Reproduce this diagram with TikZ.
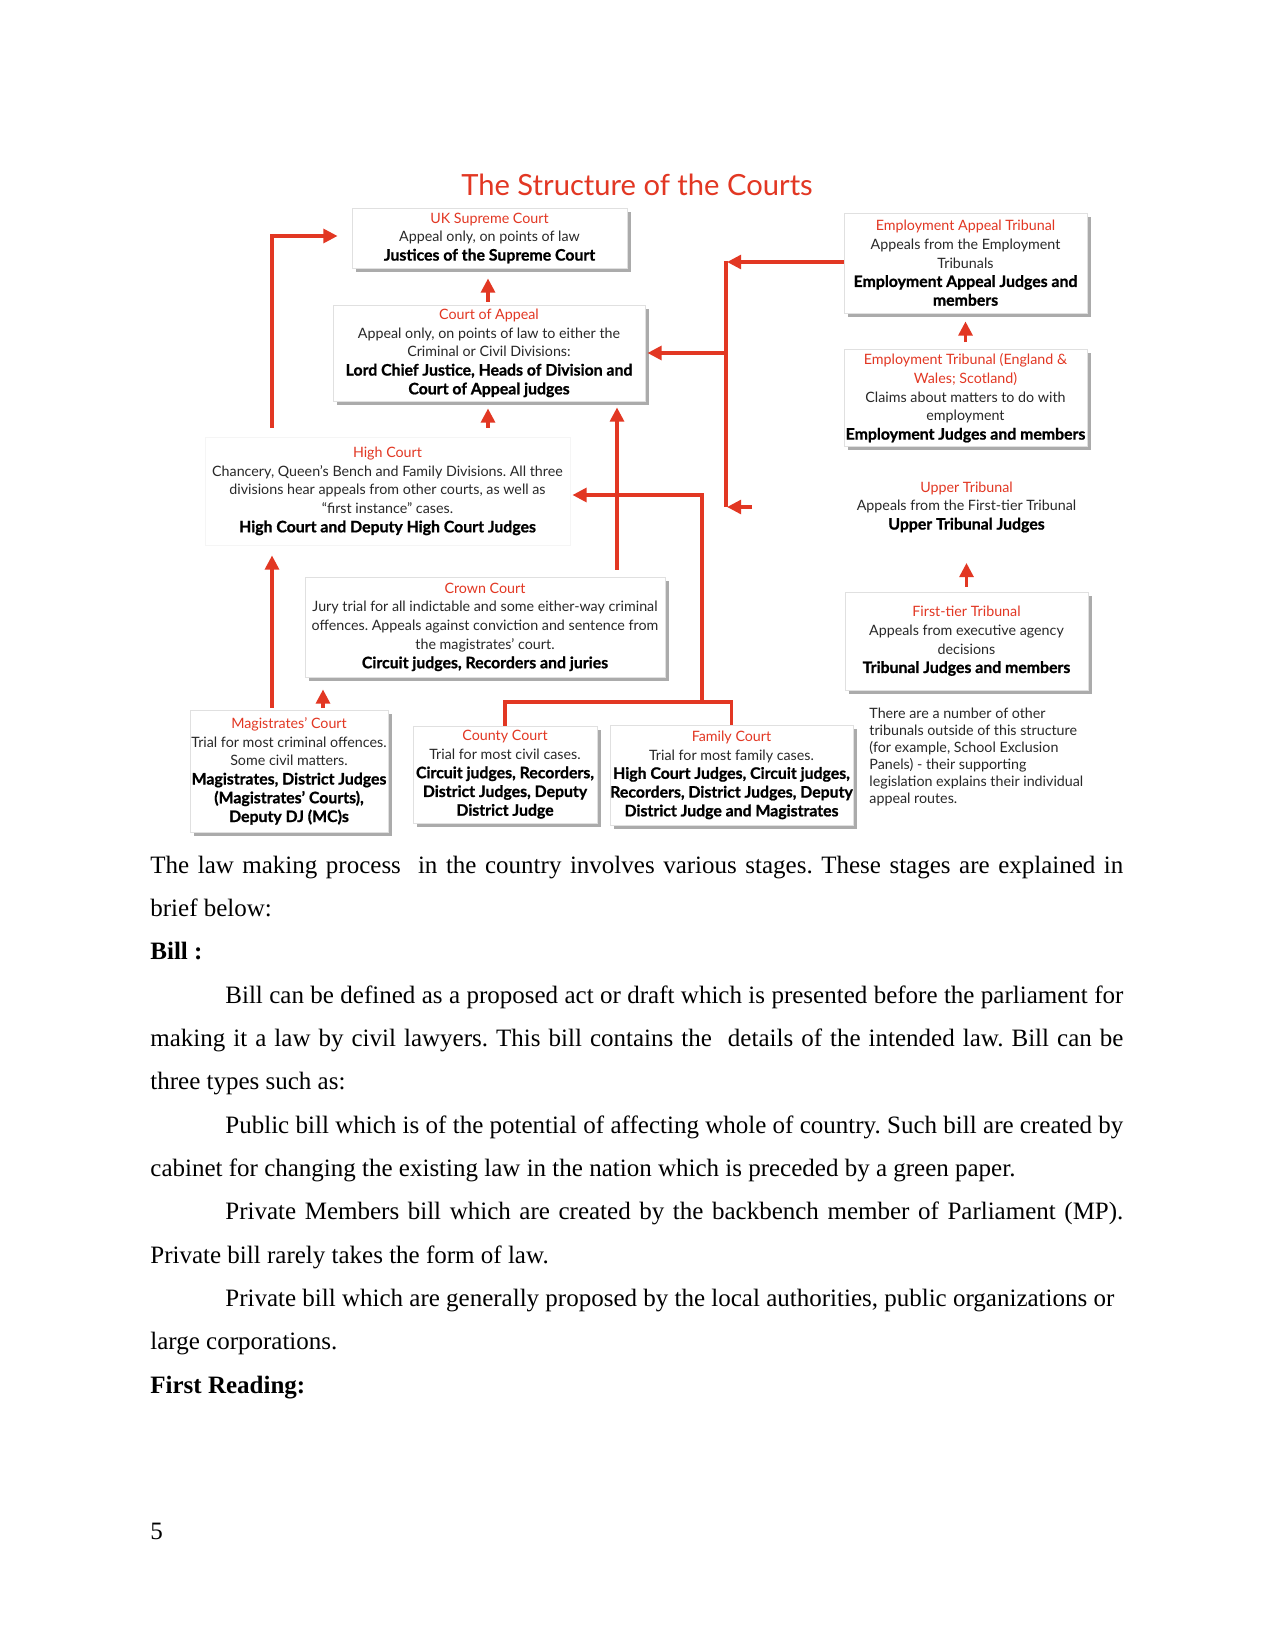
\documentclass[tikz,border=0pt]{standalone}
\usepackage{fontspec}
\setmainfont{Liberation Serif}
\newfontfamily\diagfont[BoldFeatures={FakeBold=1}]{Lato}
\usetikzlibrary{arrows.meta,calc,shadows}
\definecolor{cred}{RGB}{226,55,35}
\definecolor{ctext}{RGB}{40,40,40}
\newcommand{\redt}[1]{\textcolor{cred}{#1}}
\newcommand{\bt}[1]{{\fontsize{7.6}{9}\selectfont\bfseries\color{black}#1}}
\newcommand{\dfont}{\diagfont\fontsize{6.85}{9}\selectfont\color{ctext}\frenchspacing}
\begin{document}
\begin{tikzpicture}[x=0.48pt,y=-0.48pt,
  sz/.style 2 args={minimum width=#1*0.48pt, minimum height=#2*0.48pt},
  box/.style={draw=black!12, fill=white, line width=0.4pt, inner sep=0pt, align=center, font=\dfont,
     drop shadow={shadow xshift=1.8pt, shadow yshift=-1.8pt, fill=black!60, opacity=0.55}},
  plainbox/.style={draw=black!4, fill=white, inner sep=0pt, align=center, font=\dfont},
  nobox/.style={inner sep=0pt, align=center, font=\dfont},
  conn/.style={draw=cred, line width=1.7pt},
  arr/.style={conn, -{Triangle[length=6.8pt,width=6.6pt]}}]
\fill[white] (0,0) rectangle (1275,1651);
\useasboundingbox (0,0) rectangle (1275,1651);

% title
\node[anchor=base, inner sep=0pt, font=\diagfont\fontsize{14}{16}\selectfont, text=cred] (title) at (637,196) {The Structure of the Courts};

% boxes
\node[box, sz={275}{60}] (sup) at (489.5,238) {\redt{UK Supreme Court}\\Appeal only, on points of law\\\bt{Justices of the Supreme Court}};
\node[box, sz={312}{96}] (coa) at (489,353) {\redt{Court of Appeal}\\Appeal only, on points of law to either the\\Criminal or Civil Divisions:\\\bt{Lord Chief Justice, Heads of Division and}\\\bt{Court of Appeal judges}};
\node[plainbox, sz={365}{108}] (hc) at (387.5,491) {\redt{High Court}\\Chancery, Queen’s Bench and Family Divisions. All three\\divisions hear appeals from other courts, as well as\\“first instance” cases.\\\bt{High Court and Deputy High Court Judges}};
\node[box, sz={360}{100}] (cc) at (485,627) {\redt{Crown Court}\\Jury trial for all indictable and some either-way criminal\\offences. Appeals against conviction and sentence from\\the magistrates’ court.\\\bt{Circuit judges, Recorders and juries}};
\node[box, sz={198}{122}] (mc) at (289,771) {\redt{Magistrates’ Court}\\Trial for most criminal offences.\\Some civil matters.\\\bt{Magistrates, District Judges}\\\bt{(Magistrates’ Courts),}\\\bt{Deputy DJ (MC)s}};
\node[box, sz={184}{97}] (cty) at (505,774.5) {\redt{County Court}\\Trial for most civil cases.\\\bt{Circuit judges, Recorders,}\\\bt{District Judges, Deputy}\\\bt{District Judge}};
\node[box, sz={243}{100}] (fc) at (731.5,775) {\redt{Family Court}\\Trial for most family cases.\\\bt{High Court Judges, Circuit judges,}\\\bt{Recorders, District Judges, Deputy}\\\bt{District Judge and Magistrates}};
\node[box, sz={243}{100}] (eat) at (965.5,263) {\redt{Employment Appeal Tribunal}\\Appeals from the Employment\\Tribunals\\\bt{Employment Appeal Judges and}\\\bt{members}};
\node[box, sz={243}{97}] (et) at (965.5,398) {\redt{Employment Tribunal (England \&}\\\redt{Wales; Scotland)}\\Claims about matters to do with\\employment\\\bt{Employment Judges and members}};
\node[nobox, sz={243}{95}] (ut) at (966.5,507) {\redt{Upper Tribunal}\\Appeals from the First-tier Tribunal\\\bt{Upper Tribunal Judges}};
\node[box, sz={243}{98}] (ftt) at (966.5,641) {\redt{First-tier Tribunal}\\Appeals from executive agency\\decisions\\\bt{Tribunal Judges and members}};
\node[inner sep=0pt, align=left, anchor=west, font=\diagfont\fontsize{6.85}{8.1}\selectfont\color{ctext}\frenchspacing] (note) at (869,757) {There are a number of other\\tribunals outside of this structure\\(for example, School Exclusion\\Panels) - their supporting\\legislation explains their individual\\appeal routes.};

% connector guide coordinates
\coordinate (L) at (272,0);
\coordinate (M) at (323,0);
\coordinate (C) at (617,0);
\coordinate (V) at (726,0);
\coordinate (J) at (702,702);

% connectors
\draw[arr] ($(coa.north)+(-1,-3)$) -- ($(sup.south)+(-1.5,10)$);
\draw[arr] ($(hc.north -| coa.south)+(-1,-9)$) -- ($(coa.south)+(-1,7)$);
\draw[arr] ($(hc.north -| L)+(0,-9)$) |- ($(sup.west)+(-14,-2)$);
\draw[arr] ($(mc.north -| L)+(0,-2)$) -- ($(hc.south -| L)+(0,10)$);
\draw[arr] ($(mc.north -| M)+(0,-2)$) -- ($(cc.south -| M)+(0,12)$);
\draw[arr] ($(cc.north -| C)+(0,-7)$) -- ($(coa.south -| C)+(0,6)$);
\draw[conn] (cty.north) |- (J) -| (fc.north);
\draw[arr] (J) |- ($(hc.east)+(2,4)$);
\draw[arr] ($(eat.west)+(0,-1)$) -- ($(eat.west -| V)+(1,-1)$);
\draw[conn] ($(eat.west -| V)+(0,-2)$) -- (ut.west -| V);
\draw[arr] (coa.east -| V) -- ($(coa.east)+(2,0)$);
\draw[arr] ($(ut.west -| V)+(26,0)$) -- ($(ut.west -| V)+(1,0)$);
\draw[arr] ($(et.north)+(0,-7)$) -- ($(eat.south)+(0,8)$);
\draw[arr] ($(ftt.north)+(0,-5)$) -- ($(ut.south)+(0,8)$);

% body text
\node[anchor=base west, inner sep=0pt, text width=467pt, align=justify, font=\fontsize{12}{20.8}\selectfont\frenchspacing] (body) at (150,873) {%
\setlength{\parindent}{36pt}%
The law making process\ \ in the country involves various stages. These stages are explained in\linebreak brief below:\par
\noindent\textbf{Bill :}\par
Bill can be defined as a proposed act or draft which is presented before the parliament for\linebreak making it a law by civil lawyers. This bill contains the\ \ details of the intended law. Bill can be\linebreak three types such as:\par
Public bill which is of the potential of affecting whole of country. Such bill are created by\linebreak cabinet for changing the existing law in the nation which is preceded by a green paper.\par
Private Members bill which are created by the backbench member of Parliament (MP).\linebreak Private bill rarely takes the form of law.\par
Private bill which are generally proposed by the local authorities, public organizations or\newline large corporations.\par
\noindent\textbf{First Reading:}\par};

\node[anchor=base west, inner sep=0pt, font=\fontsize{12}{14}\selectfont] (pagenum) at (150,1539) {5};
\end{tikzpicture}
\end{document}
